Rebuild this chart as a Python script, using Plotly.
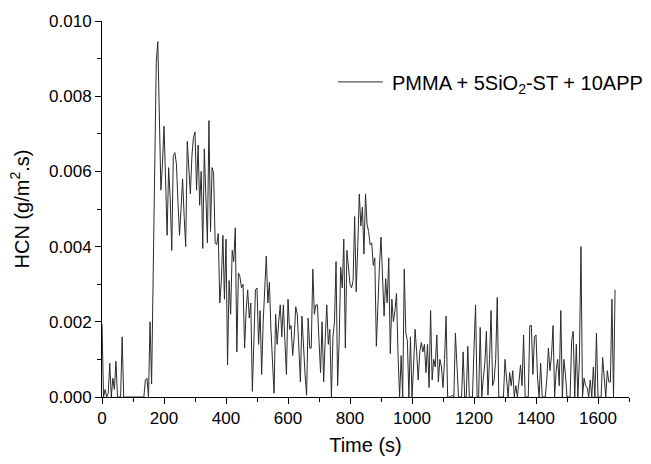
import plotly.graph_objects as go

# Time axis (s), sampled every 5 s
time_s = list(range(0, 1660, 5))

# HCN release rate (g/m².s)
hcn = [
    0.00195, 0, 0.0002, 0, 0.0001, 0.0009, 0, 0.0005, 0.0002, 0.00095,
    0, 0, 0, 0.0016, 0, 0, 0, 0, 0, 0,
    0, 0, 0, 0, 0, 0, 0, 0, 0.00045, 0.0005,
    0, 0.002, 0.00035, 0.0032, 0.0063, 0.0089, 0.00945, 0.0072, 0.0055, 0.0062,
    0.0072, 0.0058, 0.0043, 0.0061, 0.0053, 0.0039, 0.0064, 0.0065, 0.0062, 0.0052,
    0.0043, 0.005, 0.0058, 0.0048, 0.004, 0.0068, 0.006, 0.0054, 0.0064, 0.0069,
    0.00705, 0.0055, 0.0067, 0.0051, 0.006, 0.00395, 0.0066, 0.005, 0.0041, 0.00735,
    0.0044, 0.0061, 0.00595, 0.0041, 0.00405, 0.00435, 0.0025, 0.0031, 0.0043, 0.0026,
    0.0042, 0.00085, 0.0031, 0.0022, 0.0039, 0.0036, 0.0045, 0.0012, 0.0033, 0.0032,
    0.0029, 0.003, 0.0013, 0.0023, 0.00285, 0.0021, 0.0025, 0.00015, 0.0015, 0.00285,
    0.0029, 0.0014, 0.0023, 0.0006, 0.002, 0.003, 0.00375, 0.0025, 0.00305, 0.0018,
    0.0008, 0.0001, 0.0022, 0.0014, 0.002, 0.00245, 0.0016, 0.00245, 0.0015, 0.0006,
    0.0026, 0.0018, 0.0019, 0.0011, 0.0016, 0.0024, 0.0022, 0.0012, 0.0004, 0.00215,
    0.0013, 0.0006, 0.00005, 0.0021, 0.0013, 0.0013, 0.0034, 0.0022, 0.00245, 0.00245,
    0.0015, 0.00065, 0.002, 0.0004, 0.0015, 0.00245, 0.0014, 0.0018, 0, 0.0016,
    0.002, 0.0036, 0.0003, 0.0015, 0.00345, 0.0029, 0.0042, 0.0013, 0.0039, 0.0035,
    0.003, 0.0029, 0.0031, 0.0048, 0.0028, 0.004, 0.0054, 0.00455, 0.00505, 0.0038,
    0.0054, 0.0046, 0.0044, 0.00405, 0.0041, 0.0035, 0.0037, 0.00135, 0.00275, 0.0035,
    0.00425, 0.003, 0.00215, 0.00315, 0.0025, 0.0037, 0.00115, 0.0026, 0.002, 0.0023,
    0.00275, 0.0011, 0, 0.0011, 0, 0.0034, 0.0017, 0.0015, 0, 0.0016,
    0, 0.0008, 0.0018, 0.0012, 0.00045, 0.0012, 0.00145, 0.0012, 0.0014, 0.00065,
    0.0014, 0.00025, 0.0023, 0.00045, 0.001, 0.0008, 0.00165, 0.0004, 0.001, 0.0008,
    0.00025, 0.001, 0.00215, 0, 0, 0, 0.00005, 0, 0.0017, 0.0009,
    0, 0, 0, 0.0012, 0, 0, 0.00135, 0, 0, 0,
    0.0013, 0.00245, 0, 0, 0.00185, 0, 0.0005, 0.0009, 0.00175, 0.00005,
    0.001, 0.0023, 0.0003, 0.00045, 0.001, 0.00265, 0, 0, 0, 0,
    0.001, 0.0005, 0, 0.00065, 0.0003, 0.0007, 0, 0.0003, 0, 0.0004,
    0.00085, 0.0003, 0.00165, 0, 0, 0, 0.0019, 0.0019, 0.0006, 0.0016,
    0.00165, 0.0005, 0, 0.0009, 0, 0, 0, 0.0005, 0.0013, 0.0007,
    0.0011, 0.0019, 0, 0.0007, 0.001, 0.0003, 0.0023, 0, 0.001, 0.0006,
    0, 0, 0, 0.0015, 0.00175, 0, 0.0014, 0, 0.001, 0.004,
    0, 0.0005, 0.0003, 0.00025, 0, 0.00045, 0, 0.0008, 0, 0.0017,
    0, 0, 0, 0.00105, 0.0006, 0, 0.0007, 0.0004, 0.0004, 0.0026,
    0, 0.00285,
]

series_name = "PMMA + 5SiO<sub>2</sub>-ST + 10APP"
x_title = "Time (s)"
y_title = "HCN (g/m<sup>2</sup>.s)"

FONT = "Liberation Sans, Arial, sans-serif"
LINE_COLOR = "#2b2b2b"

fig = go.Figure()
fig.add_trace(go.Scatter(
    x=time_s, y=hcn, mode="lines", name=series_name,
    line=dict(color=LINE_COLOR, width=1),
    showlegend=False,
))

# Legend drawn in paper coordinates (sample line + label) so it can sit
# partly beyond the plot area like in the reference without shrinking it.
fig.add_shape(
    type="line", xref="paper", yref="paper",
    x0=0.448, x1=0.533, y0=0.838, y1=0.838,
    line=dict(color=LINE_COLOR, width=1),
)
fig.add_annotation(
    text=series_name, xref="paper", yref="paper",
    x=0.5465, y=0.832, xanchor="left", yanchor="middle",
    showarrow=False, font=dict(family=FONT, size=20, color="black"),
)

fig.update_layout(
    width=651, height=464,
    margin=dict(l=102, r=22, t=20, b=62),
    paper_bgcolor="white", plot_bgcolor="white",
    font=dict(family=FONT, color="black", size=17),
    showlegend=False,
)

fig.update_xaxes(
    range=[0, 1700], dtick=200, tick0=0,
    showgrid=False, zeroline=False,
    showline=True, linecolor="black", linewidth=1,
    ticks="outside", ticklen=6, tickwidth=1, tickcolor="black",
    minor=dict(dtick=100, ticks="outside", ticklen=4, tickwidth=1, tickcolor="black", showgrid=False),
    tickfont=dict(family=FONT, size=17, color="black"),
    title=dict(text=x_title, font=dict(family=FONT, size=20, color="black"), standoff=10),
)
fig.update_yaxes(
    range=[0, 0.010], dtick=0.002, tick0=0, tickformat=".3f",
    showgrid=False, zeroline=False,
    showline=True, linecolor="black", linewidth=1,
    ticks="outside", ticklen=6, tickwidth=1, tickcolor="black",
    minor=dict(dtick=0.001, ticks="outside", ticklen=4, tickwidth=1, tickcolor="black", showgrid=False),
    tickfont=dict(family=FONT, size=17, color="black"),
    title=dict(text=y_title, font=dict(family=FONT, size=20, color="black"), standoff=14),
)

fig.write_html("out.html")
